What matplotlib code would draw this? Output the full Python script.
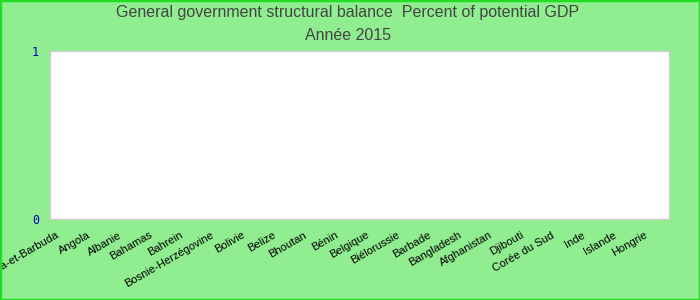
import matplotlib
matplotlib.use("Agg")
import matplotlib.pyplot as plt
from matplotlib.patches import Rectangle
from matplotlib.transforms import ScaledTranslation

# Categories (countries) and values for 2015 -- no data points shown in the chart
countries = [
    "Antigua-et-Barbuda", "Angola", "Albanie", "Bahamas", "Bahrein",
    "Bosnie-Herzégovine", "Bolivie", "Belize", "Bhoutan", "Bénin",
    "Belgique", "Biélorussie", "Barbade", "Bangladesh", "Afghanistan",
    "Djibouti", "Corée du Sud", "Inde", "Islande", "Hongrie",
]
values = [0] * len(countries)
y_ticks = [0, 1]

title = "General government structural balance  Percent of potential GDP\nAnnée 2015"

plt.rcParams["font.family"] = ["Liberation Sans", "DejaVu Sans"]

fig = plt.figure(figsize=(7, 3), dpi=100, facecolor="#90ee90")
ax = fig.add_axes([50 / 700, 1 - 219 / 300, 619 / 700, 168 / 300])
ax.set_facecolor("white")

x = list(range(len(countries)))
ax.bar(x, values, width=0.6, color="#4572a7")
ax.set_xlim(-0.5, len(countries) - 0.5)
ax.set_ylim(0, 1)

ax.set_yticks(y_ticks)
ax.set_yticklabels([str(v) for v in y_ticks], color="#0000bb",
                   family="DejaVu Sans Mono", fontsize=8.5)
ax.tick_params(axis="y", length=0, pad=8)

ax.set_xticks(x)
ax.set_xticklabels(countries, rotation=30, ha="right", va="center",
                   rotation_mode="anchor", fontsize=8, color="black")
ax.tick_params(axis="x", length=0, pad=11)
shift = ScaledTranslation(-7 / 100, 0, fig.dpi_scale_trans)
for lbl in ax.get_xticklabels():
    lbl.set_transform(lbl.get_transform() + shift)

for sp in ax.spines.values():
    sp.set_color("#cccccc")
    sp.set_linewidth(1)

fig.text(0.497, 1 - 13 / 300, "General government structural balance  Percent of potential GDP",
         ha="center", va="center", fontsize=11.5, color="#444444")
fig.text(0.497, 1 - 36 / 300, "Année 2015",
         ha="center", va="center", fontsize=11.5, color="#444444")

# bright green border round the whole figure
fig.patches.append(Rectangle((0, 0), 1, 1, transform=fig.transFigure,
                             fill=False, edgecolor="#22dd22", linewidth=2.5))

fig.savefig("out.png", dpi=100, facecolor=fig.get_facecolor())
